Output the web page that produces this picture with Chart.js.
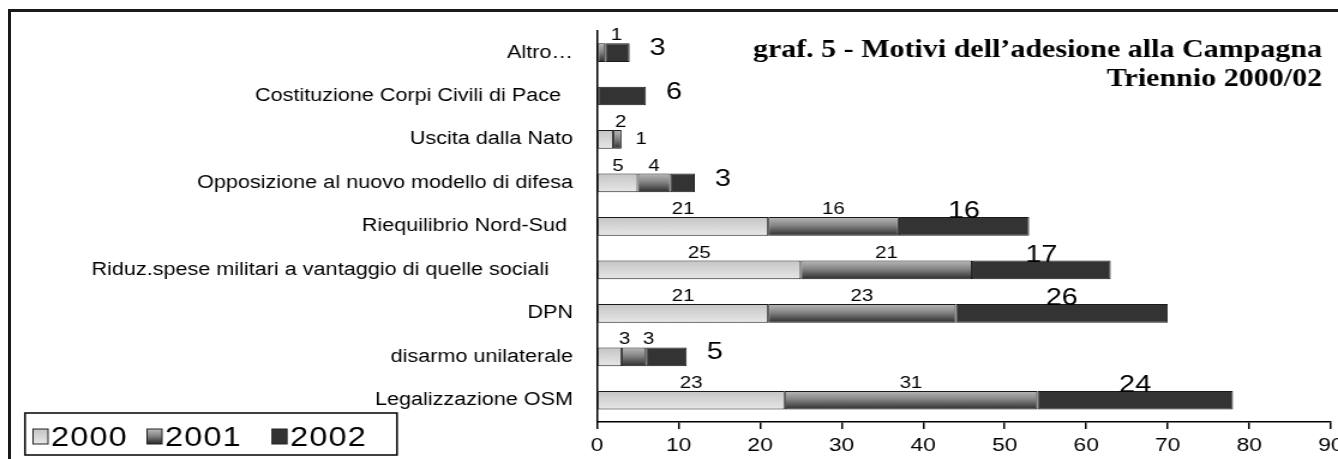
<!DOCTYPE html>
<html>
<head>
<meta charset="utf-8">
<script src="https://cdn.jsdelivr.net/npm/chart.js@4.4.1/dist/chart.umd.min.js"></script>
<style>
  html, body { margin: 0; padding: 0; background: #fff; }
  #frame { position: absolute; left: 8px; top: 9px; width: 1340px; height: 460px;
           border-top: 3px solid #1a1a1a; border-left: 3px solid #1a1a1a; }
  #wrap { position: absolute; left: 0; top: 0; height: 459px; transform-origin: 0 0; }
</style>
</head>
<body>
<div id="frame"></div>
<div id="wrap"><canvas id="myChart"></canvas></div>
<script>
const categories = [
  "Altro…",
  "Costituzione Corpi Civili di Pace  ",
  "Uscita dalla Nato",
  "Opposizione al nuovo modello di difesa",
  "Riequilibrio Nord-Sud ",
  "Riduz.spese militari a vantaggio di quelle sociali    ",
  "DPN",
  "disarmo unilaterale",
  "Legalizzazione OSM",
];
const years = ["2000", "2001", "2002"];
const values2000 = [0, 0, 2, 5, 21, 25, 21, 3, 23];
const values2001 = [1, 0, 1, 4, 16, 21, 23, 3, 31];
const values2002 = [3, 6, 0, 3, 16, 17, 26, 5, 24];
const xTicks = [0, 10, 20, 30, 40, 50, 60, 70, 80, 90];
const titleLines = ["graf. 5 - Motivi dell’adesione alla Campagna", "Triennio 2000/02"];

// the picture is stretched sideways, so the chart is drawn narrower and scaled
const S = 1.2;
const W = 1338 / S;
const wrap = document.getElementById("wrap");
wrap.style.width = W + "px";
wrap.style.transform = "scale(" + S + ",1)";

const stops2000 = [[0, "#c4c4c4"], [0.5, "#d6d6d6"], [1, "#e8e8e8"]];
const stops2001 = [[0, "#bdbdbd"], [0.45, "#858585"], [1, "#262626"]];
const solid2002 = "#333333";

function gradient(stops) {
  return (c) => {
    const y = c.chart.scales.y;
    const mid = stops[1][1];
    if (!y || c.type !== "data") return mid;
    const py = y.getPixelForValue(c.dataIndex);
    if (!isFinite(py)) return mid;
    const g = c.chart.ctx.createLinearGradient(0, py - 10, 0, py + 10);
    stops.forEach(([o, col]) => g.addColorStop(o, col));
    return g;
  };
}

function swatchFill(ctx, stops, y0, h) {
  if (typeof stops === "string") return stops;
  const g = ctx.createLinearGradient(0, y0, 0, y0 + h);
  stops.forEach(([o, col]) => g.addColorStop(o, col));
  return g;
}

const barLabels = {
  id: "barLabels",
  afterDatasetsDraw(chart) {
    const ctx = chart.ctx;
    ctx.save();
    ctx.fillStyle = "#000";
    chart.data.datasets.forEach((ds, di) => {
      const meta = chart.getDatasetMeta(di);
      meta.data.forEach((el, i) => {
        const v = ds.data[i];
        if (!v) return;
        const x0 = Math.min(el.base, el.x);
        const x1 = Math.max(el.base, el.x);
        const w = x1 - x0;
        const top = el.y - el.height / 2;
        const last = chart.data.datasets.slice(di + 1).every((d) => !d.data[i]);
        if (di < 2) {
          ctx.font = "17px Arial, 'Liberation Sans'";
          if (last && w < 40 / S) {
            ctx.textAlign = "left";
            ctx.textBaseline = "middle";
            ctx.fillText(String(v), x1 + 14 / S, el.y);
          } else {
            const shift = w < 30 / S ? 15 / S : 0;
            ctx.textAlign = "center";
            ctx.textBaseline = "alphabetic";
            ctx.fillText(String(v), (x0 + x1) / 2 + shift, top - 3);
          }
        } else {
          ctx.font = "24px Arial, 'Liberation Sans'";
          if (w < 80 / S) {
            ctx.textAlign = "left";
            ctx.textBaseline = "middle";
            ctx.fillText(String(v), x1 + 20 / S, el.y - 4);
          } else {
            ctx.textAlign = "center";
            ctx.textBaseline = "alphabetic";
            ctx.fillText(String(v), (x0 + x1) / 2, top + 1);
          }
        }
      });
    });
    ctx.restore();
  },
  afterDraw(chart) {
    const ctx = chart.ctx;
    ctx.save();
    // title
    ctx.fillStyle = "#000";
    ctx.font = "bold 25px 'Liberation Serif', 'Times New Roman', serif";
    ctx.textAlign = "right";
    ctx.textBaseline = "alphabetic";
    ctx.fillText(titleLines[0], 1322 / S, 57);
    ctx.fillText(titleLines[1], 1322 / S, 86);
    // legend box
    ctx.lineWidth = 1.5;
    ctx.strokeStyle = "#000";
    ctx.strokeRect(25 / S, 413, (397 - 25) / S, 42);
    const fills = [stops2000, stops2001, solid2002];
    const sx = [33, 147, 272];
    const tx = [51, 165, 290];
    ctx.font = "27px Arial, 'Liberation Sans'";
    ctx.letterSpacing = "1px";
    ctx.textAlign = "left";
    years.forEach((yr, k) => {
      ctx.fillStyle = swatchFill(ctx, fills[k], 429, 15);
      ctx.fillRect(sx[k] / S, 429, 15 / S, 15);
      ctx.lineWidth = 1;
      ctx.strokeStyle = "#222";
      ctx.strokeRect(sx[k] / S, 429, 15 / S, 15);
      ctx.fillStyle = "#000";
      ctx.fillText(yr, tx[k] / S, 446);
    });
    ctx.restore();
  },
};

const ctx = document.getElementById("myChart");

const myChart = new Chart(ctx, {
  type: "bar",
  data: {
    labels: categories,
    datasets: [
      { label: years[0], data: values2000, backgroundColor: gradient(stops2000) },
      { label: years[1], data: values2001, backgroundColor: gradient(stops2001) },
      { label: years[2], data: values2002, backgroundColor: solid2002 },
    ].map((d) => ({
      ...d,
      borderColor: "#1a1a1a",
      borderWidth: (c) => (c.raw ? 1 : 0),
      borderSkipped: false,
      barPercentage: 0.86,
      categoryPercentage: 0.5,
    })),
  },
  options: {
    indexAxis: "y",
    responsive: true,
    maintainAspectRatio: false,
    animation: false,
    layout: { padding: { top: 27, right: 6, bottom: 0, left: 0 } },
    plugins: {
      legend: { display: false },
      tooltip: { enabled: false },
    },
    scales: {
      x: {
        stacked: true,
        min: xTicks[0],
        max: xTicks[xTicks.length - 1],
        afterBuildTicks: (s) => { s.ticks = xTicks.map((v) => ({ value: v })); },
        ticks: {
          color: "#000",
          font: { family: "Arial, 'Liberation Sans'", size: 19 },
          padding: 5,
          maxRotation: 0,
        },
        grid: { drawOnChartArea: false, tickLength: 7, color: "#000", lineWidth: 1.5 },
        border: { color: "#000", width: 1.5 },
        afterFit: (s) => { s.height = 37; s.paddingLeft = 0; s.paddingRight = 0; },
      },
      y: {
        stacked: true,
        ticks: {
          color: "#000",
          font: { family: "Arial, 'Liberation Sans'", size: 18 },
          padding: 24 / S,
        },
        grid: { drawOnChartArea: false, drawTicks: false },
        border: { color: "#000", width: 1.5 },
        afterFit: (s) => { s.width = 597 / S; },
      },
    },
  },
  plugins: [barLabels],
});
</script>
</body>
</html>
